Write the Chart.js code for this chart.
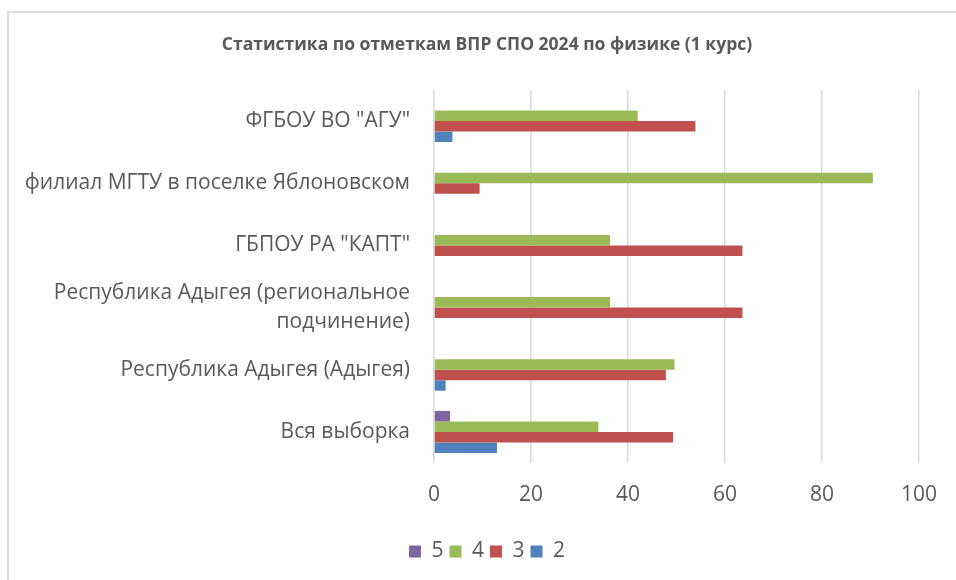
<!DOCTYPE html>
<html>
<head>
<meta charset="utf-8">
<script src="https://cdn.jsdelivr.net/npm/chart.js@4"></script>
<style>
  html, body { margin: 0; padding: 0; background: #fff; overflow: hidden; }
  #frame { position: absolute; left: 7px; top: 11px; width: 1000px; height: 1000px;
           border-left: 2px solid #dcdcdc; border-top: 2px solid #dcdcdc; }
  #chart { position: absolute; left: 0; top: 0; }
</style>
</head>
<body>
<div id="frame"></div>
<canvas id="chart" width="956" height="580"></canvas>
<script>
const categories = [
    'ФГБОУ ВО "АГУ"',
    'филиал МГТУ в поселке Яблоновском',
    'ГБПОУ РА "КАПТ"',
    ['Республика Адыгея (региональное', 'подчинение)'],
    'Республика Адыгея (Адыгея)',
    'Вся выборка'
]
const grade5 = [0, 0, 0, 0, 0, 3.3]
const grade4 = [42.0, 90.5, 36.3, 36.3, 49.6, 33.9]
const grade3 = [53.9, 9.4, 63.6, 63.6, 47.8, 49.3]
const grade2 = [3.8, 0, 0, 0, 2.4, 13.0]
const xTicks = [0, 20, 40, 60, 80, 100]

const textColor = '#595959'
Chart.defaults.font.family = '"Open Sans", sans-serif'
Chart.defaults.color = textColor

// long category names run past the layout padding, so let the y labels use the left margin
const widenYLabels = {
    id: 'widenYLabels',
    afterLayout(chart) { chart.scales.y.left = 0 }
}

const ctx = document.getElementById('chart').getContext('2d')
new Chart(ctx, {
    type: 'bar',
    data: {
        labels: categories,
        datasets: [
            { label: '5', data: grade5, backgroundColor: '#8064A2' },
            { label: '4', data: grade4, backgroundColor: '#9BBB59' },
            { label: '3', data: grade3, backgroundColor: '#C0504D' },
            { label: '2', data: grade2, backgroundColor: '#4F81BD' }
        ]
    },
    plugins: [widenYLabels],
    options: {
        indexAxis: 'y',
        responsive: false,
        animation: false,
        categoryPercentage: 0.675,
        barPercentage: 1,
        layout: { padding: { left: 55, right: 37, top: 0, bottom: 8 } },
        scales: {
            x: {
                min: xTicks[0],
                max: xTicks[xTicks.length - 1],
                afterBuildTicks: (scale) => { scale.ticks = xTicks.map(v => ({ value: v })) },
                afterFit: (scale) => { scale.height = 72 },
                grid: { color: '#d9d9d9', lineWidth: 1.5, drawTicks: false },
                border: { display: false },
                ticks: { padding: 19, font: { size: 21 }, color: textColor, autoSkip: false, maxRotation: 0 }
            },
            y: {
                afterFit: (scale) => { scale.width = 379 },
                grid: { display: false, drawTicks: false },
                border: { display: false },
                ticks: { padding: 24, font: { size: 21, lineHeight: 1.4 }, color: textColor, autoSkip: false }
            }
        },
        plugins: {
            title: {
                display: true,
                text: 'Статистика по отметкам ВПР СПО 2024 по физике (1 курс)',
                color: textColor,
                font: { size: 17.5, weight: 'bold' },
                padding: { top: 35, bottom: 34 }
            },
            legend: {
                position: 'bottom',
                labels: { boxWidth: 12, boxHeight: 12, font: { size: 21 }, color: textColor, padding: 6 }
            },
            tooltip: { enabled: false }
        }
    }
})
</script>
</body>
</html>
